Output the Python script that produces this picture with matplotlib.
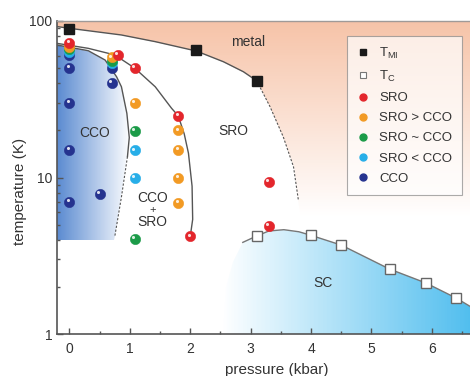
import matplotlib
matplotlib.use("Agg")
import matplotlib.pyplot as plt
import numpy as np
import matplotlib.transforms as mtransforms
from matplotlib.patches import Polygon
from matplotlib.lines import Line2D
from matplotlib.colors import LinearSegmentedColormap

plt.rcParams['font.family'] = ['Liberation Sans', 'DejaVu Sans']
plt.rcParams['mathtext.default'] = 'regular'

# ---- data (pressure in kbar, temperature in K) ----
tmi_p = [0, 2.1, 3.1]
tmi_T = [89, 65, 41.5]

tc_p = [3.1, 4.0, 4.5, 5.3, 5.9, 6.4]
tc_T = [4.23, 4.27, 3.7, 2.6, 2.12, 1.7]

sro_p = [0, 0.8, 1.08, 1.8, 2.0, 3.3, 3.3]
sro_T = [72.7, 60.6, 50, 24.8, 4.2, 9.4, 4.9]

sro_gt_p = [0, 0.7, 1.08, 1.8, 1.8, 1.8, 1.8]
sro_gt_T = [68.5, 58.6, 30, 20, 15, 10, 6.9]

sro_eq_p = [0, 0.7, 1.08, 1.08]
sro_eq_T = [66, 55.7, 19.8, 4.05]

sro_lt_p = [0, 0.7, 1.08, 1.08]
sro_lt_T = [63.7, 53.7, 14.9, 10]

cco_p = [0, 0, 0, 0, 0, 0.5, 0.7, 0.7]
cco_T = [60.7, 50, 30, 15, 7, 7.9, 50, 40]

# phase boundaries
metal_p = [-0.21, 0, 0.86, 1.42, 2.1, 2.55, 2.88, 3.1]
metal_T = [92.2, 89.8, 81.4, 73.8, 64.3, 54.9, 47.4, 41.5]
metal_dash_p = [3.1, 3.32, 3.54, 3.71, 3.79]
metal_dash_T = [41.5, 28.4, 18.2, 11.7, 7.2]

outer_p = [-0.21, 0.31, 0.75, 1.08, 1.42, 1.69, 1.8, 1.9, 1.97, 2.03, 2.04, 2.0]
outer_T = [72, 66.9, 60.7, 50, 38, 27.7, 24.8, 19, 14.3, 8.8, 5.4, 4.2]

inner_p = [-0.21, 0.31, 0.59, 0.78, 0.86, 0.95, 0.99, 0.96]
inner_T = [70.3, 64.6, 56.3, 44, 38, 25.7, 18, 13.6]
inner_dash_p = [0.96, 0.86, 0.75]
inner_dash_T = [13.6, 7.5, 4.2]
cco_floor = 4.0

sc_p = [2.87, 3.1, 3.3, 3.55, 3.8, 4.0, 4.5, 5.3, 5.9, 6.4, 6.7]
sc_T = [3.85, 4.23, 4.55, 4.64, 4.5, 4.27, 3.7, 2.6, 2.12, 1.7, 1.45]
sc_edge_p = [2.55, 2.6, 2.7, 2.87]
sc_edge_T = [1.0, 2.0, 2.9, 3.85]

red = '#e3262c'
orange = '#f29a24'
green = '#1b9b48'
cyan = '#27aee8'
navy = '#25338f'
txt = '#333333'
line_c = '#555555'

fig = plt.figure(figsize=(4.7, 3.76), dpi=100)
ax = fig.add_axes([57/470, 42/376, 440/470, 313/376])
ax.set_yscale('log')
ax.set_xlim(-0.207, 7.08)
ax.set_ylim(1, 100)


def gradient_fill(verts, x0, x1, y0, y1, c0, c1, horizontal, z):
    cmap = LinearSegmentedColormap.from_list('g', [c0, c1])
    n = 200
    if horizontal:
        X = np.linspace(x0, x1, n + 1)
        Y = np.array([y0, y1])
        C = np.linspace(0, 1, n)[None, :]
    else:
        X = np.array([x0, x1])
        Y = np.logspace(np.log10(y0), np.log10(y1), n + 1)
        C = np.linspace(0, 1, n)[:, None]
    mesh = ax.pcolormesh(X, Y, C, cmap=cmap, vmin=0, vmax=1, shading='flat',
                         zorder=z, linewidth=0)
    poly = Polygon(verts, closed=True, facecolor='none', edgecolor='none',
                   transform=ax.transData)
    mesh.set_clip_path(poly)


# metal region (peach, fades downward)
metal_verts = list(zip(metal_p, metal_T)) + list(zip(metal_dash_p[1:], metal_dash_T[1:]))
metal_verts += [(3.83, 5.5), (7.1, 5.5), (7.1, 100), (-0.21, 100)]
gradient_fill(metal_verts, -0.21, 7.1, 5.5, 100, '#ffffff', '#f6c3a8', False, 0)

# CCO region (blue, fades to the right)
cco_verts = list(zip(inner_p, inner_T)) + list(zip(inner_dash_p[1:], inner_dash_T[1:]))
cco_verts += [(0.74, cco_floor), (-0.21, cco_floor)]
gradient_fill(cco_verts, -0.21, 1.02, cco_floor, 75, '#5a8ad0', '#ffffff', True, 0)

# SC region (light blue, stronger to the right)
sc_verts = list(zip(sc_edge_p, sc_edge_T)) + list(zip(sc_p[1:], sc_T[1:]))
sc_verts += [(6.7, 1.0)]
gradient_fill(sc_verts, 2.5, 6.7, 1.0, 4.7, '#ffffff', '#4fbdee', True, 0)

# boundaries
ax.plot(metal_p, metal_T, color=line_c, lw=1, zorder=2)
ax.plot(metal_dash_p, metal_dash_T, color=line_c, lw=0.8, dashes=(2, 1.5), zorder=2)
ax.plot(outer_p, outer_T, color=line_c, lw=1, zorder=2)
ax.plot(inner_p, inner_T, color=line_c, lw=1, zorder=2)
ax.plot(inner_dash_p, inner_dash_T, color=line_c, lw=0.8, dashes=(2, 1.5), zorder=2)
ax.plot(sc_p, sc_T, color='#777777', lw=1, zorder=2)

hl = mtransforms.offset_copy(ax.transData, fig=fig, x=-1.5, y=1.8, units='dots')


def balls(p, T, color, z):
    ax.scatter(p, T, s=55, c=color, edgecolors=color, linewidths=0.4, zorder=z)
    ax.scatter(p, T, s=5, c='white', alpha=0.85, linewidths=0, zorder=z + 0.5, transform=hl)


balls(cco_p, cco_T, navy, 5)
balls(sro_lt_p, sro_lt_T, cyan, 6)
balls(sro_eq_p, sro_eq_T, green, 7)
balls(sro_gt_p, sro_gt_T, orange, 8)
balls(sro_p, sro_T, red, 9)

ax.plot(tmi_p, tmi_T, ls='none', marker='s', ms=6.5, color='#1a1a1a', zorder=10)
ax.plot(tc_p, tc_T, ls='none', marker='s', ms=6.5, mfc='white', mec='#666666',
        mew=1, zorder=10)

# region labels
ax.text(2.95, 73.4, 'metal', fontsize=10, color=txt, ha='center', va='center', zorder=11)
ax.text(0.42, 19.2, 'CCO', fontsize=10, color=txt, ha='center', va='center', zorder=11)
ax.text(2.72, 19.8, 'SRO', fontsize=10, color=txt, ha='center', va='center', zorder=11)
ax.text(1.38, 7.4, 'CCO', fontsize=10, color=txt, ha='center', va='center', zorder=11)
ax.text(1.38, 6.2, '+', fontsize=8, color=txt, ha='center', va='center', zorder=11)
ax.text(1.38, 5.2, 'SRO', fontsize=10, color=txt, ha='center', va='center', zorder=11)
ax.text(4.2, 2.12, 'SC', fontsize=10, color=txt, ha='center', va='center', zorder=11)

# axes styling
ax.set_xticks(range(0, 7))
ax.set_xticks(np.arange(0.5, 7.0, 1), minor=True)
ax.set_yticks([1, 10, 100])
ax.set_yticklabels(['1', '10', '100'])
ax.tick_params(which='both', direction='in', colors='#555555', labelcolor=txt,
               labelsize=10, width=1)
ax.tick_params(which='major', length=4.5)
ax.tick_params(which='minor', length=2.5)
ax.tick_params(axis='x', pad=6)
for side in ['left', 'bottom']:
    ax.spines[side].set_color('#555555')
    ax.spines[side].set_linewidth(1.2)
ax.spines['top'].set_color('#a09a98')
ax.spines['top'].set_linewidth(1)
ax.spines['right'].set_visible(False)

ax.set_xlabel('pressure (kbar)', fontsize=11, color=txt)
ax.set_ylabel('temperature (K)', fontsize=11, color=txt)
ax.xaxis.set_label_coords(0.5, -0.093)
ax.yaxis.set_label_coords(-0.068, 0.457)

handles = [
    Line2D([], [], ls='none', marker='s', ms=4.5, mfc='#1a1a1a', mec='#1a1a1a'),
    Line2D([], [], ls='none', marker='s', ms=4.5, mfc='white', mec='#777777', mew=0.8),
    Line2D([], [], ls='none', marker='o', ms=5, mfc=red, mec=red),
    Line2D([], [], ls='none', marker='o', ms=5, mfc=orange, mec=orange),
    Line2D([], [], ls='none', marker='o', ms=5, mfc=green, mec=green),
    Line2D([], [], ls='none', marker='o', ms=5, mfc=cyan, mec=cyan),
    Line2D([], [], ls='none', marker='o', ms=5, mfc=navy, mec=navy),
]
labels = ['$T_{MI}$', '$T_{C}$', 'SRO', 'SRO > CCO', 'SRO ~ CCO', 'SRO < CCO', 'CCO']
leg = ax.legend(handles, labels, loc='upper left',
                bbox_to_anchor=(347/470, 1 - 36/376), bbox_transform=fig.transFigure,
                frameon=True, fancybox=False, edgecolor='#888888', facecolor='white',
                framealpha=0.7, fontsize=9.5, handlelength=1.0, handletextpad=0.7,
                borderpad=0.75, labelspacing=0.6, borderaxespad=0)
leg.get_frame().set_linewidth(0.8)
leg.set_zorder(20)
for t in leg.get_texts():
    t.set_color(txt)

fig.savefig('out.png', dpi=100)
